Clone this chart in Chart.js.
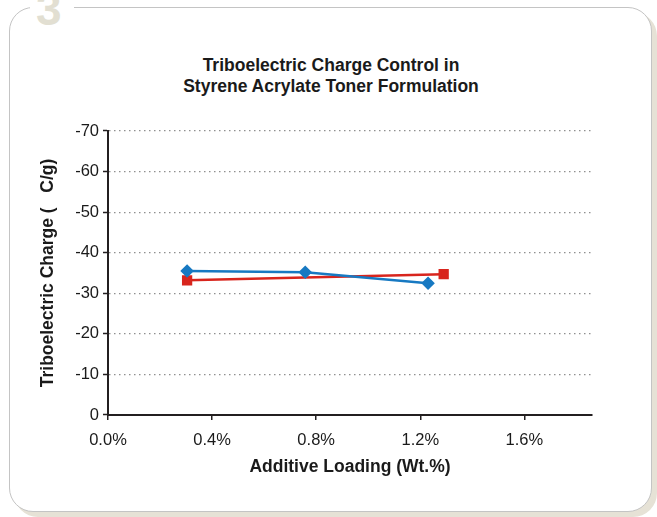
<!DOCTYPE html>
<html><head><meta charset="utf-8">
<script src="https://cdn.jsdelivr.net/npm/chart.js@4.4.1/dist/chart.umd.min.js"></script>
<style>
html,body{margin:0;padding:0;background:#fff;width:657px;height:517px;overflow:hidden;font-family:"Liberation Sans",Arial,sans-serif}
#card{position:absolute;left:9px;top:7px;width:641px;height:503px;border:1.5px solid #c4c4c4;border-radius:24px;box-shadow:5px 5px 0 #e6e2d6;background:#fff}
#num{position:absolute;left:30px;top:-11px;font:bold 46px "Liberation Sans",Arial,sans-serif;color:#e2dfd2;background:#fff;padding:0 12px 0 6px;line-height:40px;height:38px;overflow:hidden}
#title{position:absolute;left:131px;width:400px;top:55px;text-align:center;font:bold 17.5px "Liberation Sans",Arial,sans-serif;color:#1a1a1a;line-height:20.5px}
#wrap{position:absolute;left:0;top:0;width:657px;height:517px}
</style></head><body>
<div id="card"></div>
<div id="num">3</div>
<div id="title">Triboelectric Charge Control in<br>Styrene Acrylate Toner Formulation</div>
<div id="wrap"><canvas id="c" width="657" height="517"></canvas></div>
<script>
const blueX = [0.304, 0.758, 1.23];
const blueY = [-35.5, -35.2, -32.5];
const redX = [0.304, 1.29];
const redY = [-33.2, -34.7];
const xTicks = [0, 0.4, 0.8, 1.2, 1.6];
const yTicks = [0, -10, -20, -30, -40, -50, -60, -70];

const toPts = (xs, ys) => xs.map((x, i) => ({x: x, y: ys[i]}));
const FF = '"Liberation Sans", Arial, sans-serif';

new Chart(document.getElementById('c'), {
  type: 'scatter',
  data: {
    datasets: [
      {label: 'A', data: toPts(blueX, blueY), showLine: true, borderColor: '#1779c2', backgroundColor: '#1779c2', borderWidth: 2.5, pointStyle: 'rectRot', pointRadius: 5, pointHoverRadius: 5},
      {label: 'B', data: toPts(redX, redY), showLine: true, borderColor: '#d8251d', backgroundColor: '#d8251d', borderWidth: 2.5, pointStyle: 'rect', pointRadius: 5.5, pointHoverRadius: 5.5}
    ]
  },
  options: {
    responsive: false,
    animation: false,
    layout: {padding: {top: 131, left: 31, right: 65, bottom: 30}},
    plugins: {
      legend: {display: false},
      tooltip: {enabled: false},
      title: {display: false}
    },
    scales: {
      x: {
        type: 'linear', min: 0, max: 1.86,
        afterBuildTicks: s => { s.ticks = xTicks.map(v => ({value: v})); },
        afterFit: s => { s.height = 72; },
        ticks: {color: '#1a1a1a', font: {family: FF, size: 16.5}, padding: 11,
          callback: v => v.toFixed(1) + '%', maxRotation: 0},
        grid: {drawOnChartArea: false, drawTicks: true, tickLength: 5, color: '#231f20', lineWidth: 1.5},
        border: {display: true, color: '#231f20', width: 2},
        title: {display: true, text: 'Additive Loading (Wt.%)', color: '#1a1a1a',
          font: {family: FF, size: 17.5, weight: 'bold'}, padding: {top: 0, bottom: 9}}
      },
      y: {
        type: 'linear', min: -70, max: 0, reverse: true,
        afterBuildTicks: s => { s.ticks = yTicks.map(v => ({value: v})); },
        afterFit: s => { s.width = 77; },
        ticks: {color: '#1a1a1a', font: {family: FF, size: 16.5}, padding: 4},
        grid: {color: '#8f8f8f', lineWidth: 1.2, drawTicks: true, tickLength: 5, tickColor: '#231f20', tickWidth: 1.5, tickBorderDash: [1, 0]},
        border: {display: true, color: '#231f20', width: 2, dash: [1.5, 3.5]},
        title: {display: true, text: 'Triboelectric Charge (   C/g)', color: '#1a1a1a',
          font: {family: FF, size: 17.5, weight: 'bold'}, padding: {top: 6.5, bottom: 0}}
      }
    }
  }
});
</script>
</body></html>
